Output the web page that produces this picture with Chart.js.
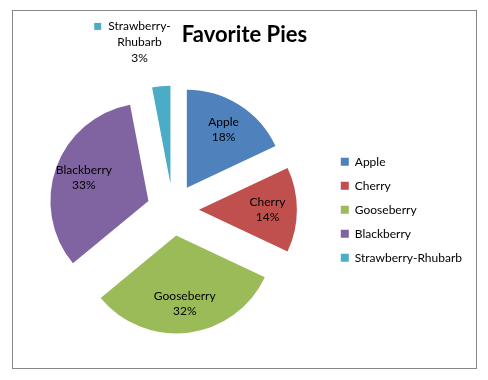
<!DOCTYPE html>
<html>
<head>
<meta charset="utf-8">
<script src="https://cdn.jsdelivr.net/npm/chart.js@4/dist/chart.umd.min.js"></script>
<style>
  body { margin: 0; background: #fff; }
  #box { position: absolute; left: 12px; top: 10px; width: 463px; height: 357px; border: 1px solid #878787; }
  canvas { display: block; }
</style>
</head>
<body>
<div id="box"><canvas id="chart" width="463" height="357"></canvas></div>
<script>
const chartTitle = "Favorite Pies";
const pies = ["Apple", "Cherry", "Gooseberry", "Blackberry", "Strawberry-Rhubarb"];
const shares = [18, 14, 32, 33, 3];
const colors = ["#4F81BD", "#C0504D", "#9BBB59", "#8064A2", "#4BACC6"];

const FONT = "Lato, 'Open Sans', sans-serif";

// pull every slice out from the centre like Excel's exploded pie
const explodePlugin = {
    id: "explode",
    beforeDatasetDraw(chart, args, opts) {
        const ctx = chart.ctx;
        args.meta.data.forEach(arc => {
            const mid = (arc.startAngle + arc.endAngle) / 2;
            ctx.save();
            ctx.translate(Math.cos(mid) * opts.distance, Math.sin(mid) * opts.distance);
            arc.draw(ctx);
            ctx.restore();
        });
        return false;
    }
};

// data labels: name + percent, small slices go outside with a legend key
const labelPlugin = {
    id: "pieLabels",
    afterDatasetsDraw(chart, args, opts) {
        const ctx = chart.ctx;
        const meta = chart.getDatasetMeta(0);
        const values = chart.data.datasets[0].data;
        const total = values.reduce((a, b) => a + b, 0);
        const d = chart.options.plugins.explode.distance;
        ctx.save();
        ctx.font = "12px " + FONT;
        ctx.fillStyle = "#000";
        ctx.textBaseline = "middle";
        meta.data.forEach((arc, i) => {
            const mid = (arc.startAngle + arc.endAngle) / 2;
            const R = arc.outerRadius;
            const cx = arc.x + Math.cos(mid) * d;
            const cy = arc.y + Math.sin(mid) * d;
            const pct = Math.round(values[i] / total * 100) + "%";
            if (values[i] / total >= 0.05) {
                const x = cx + Math.cos(mid) * R * 0.7;
                const y = cy + Math.sin(mid) * R * 0.7;
                ctx.textAlign = "center";
                ctx.fillText(chart.data.labels[i], x, y - 7.5);
                ctx.fillText(pct, x, y + 7.5);
            } else {
                const lines = chart.data.labels[i].replace("-", "-\n").split("\n").concat(pct);
                const w = Math.max(...lines.map(l => ctx.measureText(l).width));
                const ax = cx + Math.cos(mid) * R * 1.48 + 14;
                const ay = cy + Math.sin(mid) * R * 1.48 - 13;
                const centerX = ax - w / 2;
                ctx.textAlign = "center";
                lines.forEach((l, k) => ctx.fillText(l, centerX, ay + k * 16));
                ctx.fillStyle = colors[i];
                const firstW = ctx.measureText(lines[0]).width;
                ctx.fillRect(centerX - firstW / 2 - 14, ay - 3.5, 7, 7);
                ctx.fillStyle = "#000";
            }
        });
        ctx.restore();
    }
};

new Chart(document.getElementById("chart"), {
    type: "pie",
    data: {
        labels: pies,
        datasets: [{
            data: shares,
            backgroundColor: colors,
            borderWidth: 0,
            hoverOffset: 0,
            radius: 98
        }]
    },
    options: {
        responsive: false,
        animation: false,
        layout: { padding: { left: 4, right: 4, top: 0, bottom: 7 } },
        plugins: {
            explode: { distance: 26 },
            title: {
                display: true,
                text: chartTitle,
                color: "#000",
                font: { family: FONT, size: 22, weight: "bold" },
                padding: { top: 11, bottom: 10 }
            },
            legend: {
                position: "right",
                fullSize: false,
                labels: {
                    boxWidth: 8,
                    boxHeight: 8,
                    padding: 12,
                    color: "#000",
                    font: { family: FONT, size: 12 }
                }
            },
            tooltip: { enabled: false }
        }
    },
    plugins: [explodePlugin, labelPlugin]
});
</script>
</body>
</html>
